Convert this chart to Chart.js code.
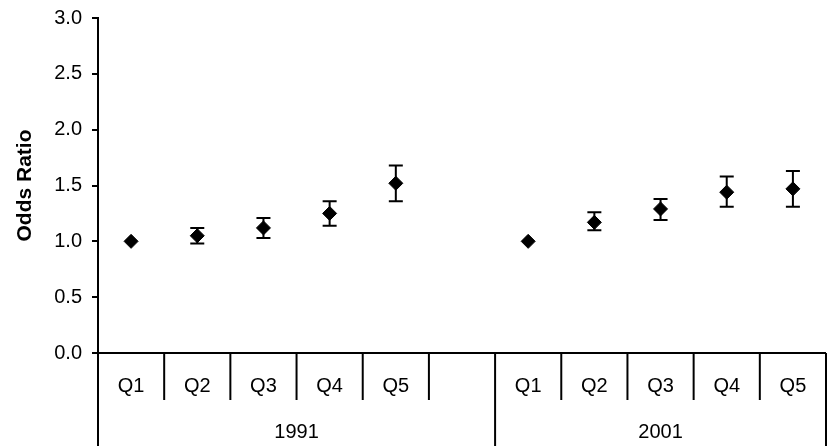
<!DOCTYPE html>
<html>
<head>
<meta charset="utf-8">
<script src="https://cdn.jsdelivr.net/npm/chart.js@4"></script>
<style>
  body { margin: 0; background: #fff; }
  canvas { display: block; }
</style>
</head>
<body>
<canvas id="oddschart" width="827" height="446"></canvas>
<script>
// categories (blank slot between the two survey years)
const quintiles = ['Q1', 'Q2', 'Q3', 'Q4', 'Q5', '', 'Q1', 'Q2', 'Q3', 'Q4', 'Q5'];

// odds ratio with 95% CI, Q1 is the reference group
const oddsRatio = [1.00, 1.05, 1.12, 1.25, 1.52, null, 1.00, 1.17, 1.29, 1.44, 1.47];
const ciLower   = [null, 0.98, 1.03, 1.14, 1.36, null, null, 1.10, 1.19, 1.31, 1.31];
const ciUpper   = [null, 1.12, 1.21, 1.36, 1.68, null, null, 1.26, 1.38, 1.58, 1.63];

// year groups under the quintile labels
const years      = ['1991', '2001'];
const yearFirst  = [0, 6];
const yearLast   = [5, 10];

const yTicks = [0, 0.5, 1.0, 1.5, 2.0, 2.5, 3.0];

const FONT = 'Liberation Sans, Arial, Helvetica, sans-serif';

// barres d'erreur (IC)
const errorBars = {
    id: 'errorBars',
    afterDatasetsDraw(chart) {
        const { ctx, scales: { x, y } } = chart;
        ctx.save();
        ctx.strokeStyle = '#000';
        ctx.lineWidth = 2;
        for (let i = 0; i < oddsRatio.length; i++) {
            if (ciLower[i] == null || ciUpper[i] == null) continue;
            const px = x.getPixelForValue(i);
            const top = y.getPixelForValue(ciUpper[i]);
            const bot = y.getPixelForValue(ciLower[i]);
            ctx.beginPath();
            ctx.moveTo(px, top); ctx.lineTo(px, bot);
            ctx.moveTo(px - 7, top); ctx.lineTo(px + 7, top);
            ctx.moveTo(px - 7, bot); ctx.lineTo(px + 7, bot);
            ctx.stroke();
        }
        ctx.restore();
    }
};

// axe des catégories en tableau (quintiles + années)
const categoryTable = {
    id: 'categoryTable',
    afterDraw(chart) {
        const { ctx, chartArea, scales: { x } } = chart;
        const n = quintiles.length;
        const w = x.getPixelForValue(1) - x.getPixelForValue(0);
        const edge = (i) => x.getPixelForValue(i) - w / 2;
        const base = chartArea.bottom;
        const rowBottom = base + 47;
        const full = chart.height;

        ctx.save();
        ctx.strokeStyle = '#000';
        ctx.lineWidth = 2;
        ctx.beginPath();
        ctx.moveTo(edge(0), base);
        ctx.lineTo(edge(n), base);
        ctx.stroke();

        const groupEdges = new Set();
        yearFirst.forEach(i => groupEdges.add(i));
        yearLast.forEach(i => groupEdges.add(i + 1));

        for (let i = 0; i <= n; i++) {
            const px = edge(i);
            ctx.beginPath();
            ctx.moveTo(px, base);
            ctx.lineTo(px, groupEdges.has(i) ? full : rowBottom);
            ctx.stroke();
        }

        ctx.fillStyle = '#000';
        ctx.font = '20px ' + FONT;
        ctx.textAlign = 'center';
        ctx.textBaseline = 'middle';
        for (let i = 0; i < n; i++) {
            if (quintiles[i]) ctx.fillText(quintiles[i], x.getPixelForValue(i), base + 33);
        }
        for (let g = 0; g < years.length; g++) {
            const cx = (edge(yearFirst[g]) + edge(yearLast[g] + 1)) / 2;
            ctx.fillText(years[g], cx, base + 79);
        }
        ctx.restore();
    }
};

new Chart(document.getElementById('oddschart'), {
    type: 'line',
    data: {
        labels: quintiles,
        datasets: [{
            label: 'Odds Ratio',
            data: oddsRatio,
            showLine: false,
            clip: false,
            pointStyle: 'rectRot',
            pointRadius: 7,
            pointBorderWidth: 1,
            pointBackgroundColor: '#000',
            pointBorderColor: '#000'
        }]
    },
    options: {
        responsive: false,
        animation: false,
        layout: {
            autoPadding: false,
            padding: { top: 18, right: 1, bottom: 93, left: 0 }
        },
        plugins: {
            legend: { display: false },
            tooltip: { enabled: false }
        },
        scales: {
            x: {
                type: 'category',
                display: false,
                offset: true
            },
            y: {
                min: 0,
                max: 3,
                afterFit(scale) {
                    scale.width = 98;
                    scale.paddingTop = 0;
                    scale.paddingBottom = 0;
                },
                afterBuildTicks(scale) { scale.ticks = yTicks.map(v => ({ value: v })); },
                border: { color: '#000', width: 2 },
                grid: {
                    drawOnChartArea: false,
                    color: '#000',
                    lineWidth: 2,
                    tickLength: 6
                },
                ticks: {
                    color: '#000',
                    padding: 10,
                    font: { family: FONT, size: 20 },
                    callback: (v) => Number(v).toFixed(1)
                },
                title: {
                    display: true,
                    text: 'Odds Ratio',
                    color: '#000',
                    padding: { top: 13, bottom: 0 },
                    font: { family: FONT, size: 21, weight: 'bold' }
                }
            }
        }
    },
    plugins: [errorBars, categoryTable]
});
</script>
</body>
</html>
